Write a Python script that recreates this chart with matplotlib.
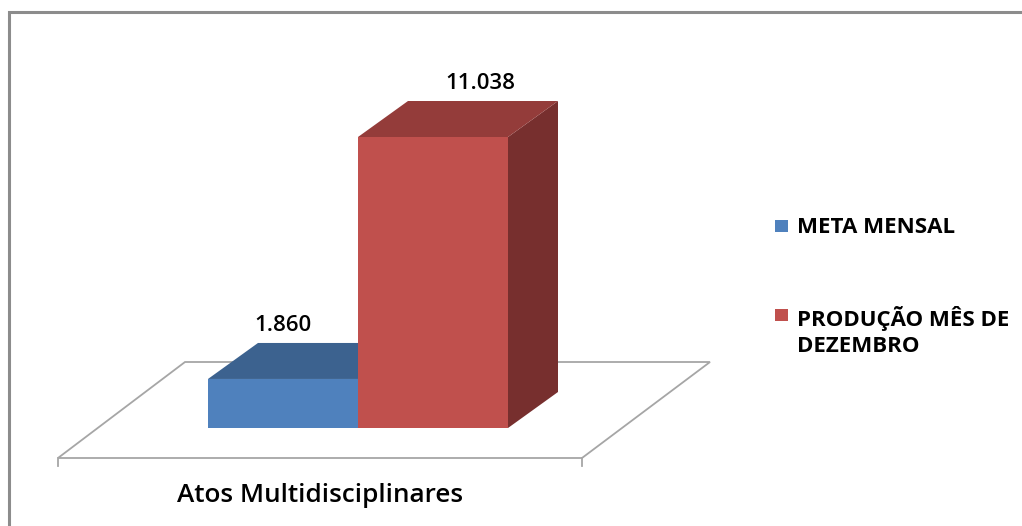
import matplotlib
matplotlib.use("Agg")
import matplotlib.pyplot as plt
from matplotlib.patches import Polygon, Rectangle

# ── Data ──────────────────────────────────────────────────────────────────────
categories = ["Atos Multidisciplinares"]
series_names = ["META MENSAL", "PRODUÇÃO MÊS DE\nDEZEMBRO"]
series_values = [1860, 11038]
value_labels = ["1.860", "11.038"]

# ── Style ─────────────────────────────────────────────────────────────────────
front_colors = ["#4F81BD", "#C0504D"]
top_colors = ["#3C628F", "#943C3A"]
side_colors = ["#2F4E74", "#772F2E"]
FONT = "Open Sans"

W, H = 1022, 526
BASE_PX = 428                 # pixel row of the value 0
PX_PER_UNIT = 291 / 11038     # vertical pixels per unit of value
DEPTH_DX, DEPTH_DY = 50, 36   # 3D depth offset, pixels
BAR_W = 150
GROUP_LEFT = 208


def py(px):
    """pixel row -> value units on the y axis"""
    return (BASE_PX - px) / PX_PER_UNIT


fig = plt.figure(figsize=(W / 100, H / 100), dpi=100)
ax = fig.add_axes([0, 0, 1, 1])
ax.set_xlim(0, W)
ax.set_ylim(py(H), py(0))
ax.axis("off")

# chart frame (only top & left edges are visible in the crop)
ax.plot([9, 9, W + 5], [py(H + 5), py(12), py(12)], color="#8C8C8C", lw=2.2,
        solid_joinstyle="miter", zorder=1)

# ── Floor ─────────────────────────────────────────────────────────────────────
floor = [(58, py(458)), (582, py(458)), (710, py(362)), (185, py(362))]
ax.add_patch(Polygon(floor, closed=True, facecolor="white", edgecolor="#A6A6A6",
                     lw=1.3, zorder=2))
for fx in (58, 582):
    ax.plot([fx, fx], [py(458), py(466)], color="#A6A6A6", lw=1.3, zorder=2)

# ── 3D bars ───────────────────────────────────────────────────────────────────
ddy = DEPTH_DY / PX_PER_UNIT
for i, (val, name) in enumerate(zip(series_values, series_names)):
    x0 = GROUP_LEFT + i * BAR_W
    x1 = x0 + BAR_W
    # side face
    ax.add_patch(Polygon([(x1, 0), (x1 + DEPTH_DX, ddy), (x1 + DEPTH_DX, val + ddy), (x1, val)],
                         closed=True, facecolor=side_colors[i], edgecolor="none", zorder=3 + i))
    # top face
    ax.add_patch(Polygon([(x0, val), (x0 + DEPTH_DX, val + ddy), (x1 + DEPTH_DX, val + ddy), (x1, val)],
                         closed=True, facecolor=top_colors[i], edgecolor="none", zorder=3 + i))
    # front face
    ax.bar(x0, val, width=BAR_W, align="edge", color=front_colors[i],
           edgecolor="none", zorder=3.5 + i)
    # value label
    lx = x0 + BAR_W / 2 + i * 47
    ax.text(lx, val + ddy + 7 / PX_PER_UNIT, value_labels[i], ha="center", va="bottom",
            fontsize=16, fontweight="semibold", family=FONT, color="black", zorder=10)

# category label
ax.text(320, py(496), categories[0], ha="center", va="center",
        fontsize=18.8, fontweight="semibold", family=FONT, color="black")

# ── Legend (drawn by hand to keep the square on the first line) ──────────────
leg_rows = [226, 315]
for i, name in enumerate(series_names):
    ax.add_patch(Rectangle((775, py(leg_rows[i] + 6)), 13, 12 / PX_PER_UNIT,
                           facecolor=front_colors[i], edgecolor="none"))
    ax.text(797, py(leg_rows[i] - 9), name, ha="left", va="top", fontsize=16,
            fontweight="bold", family=FONT, color="black", linespacing=1.3)

plt.savefig("out.png", dpi=100)
plt.close()
